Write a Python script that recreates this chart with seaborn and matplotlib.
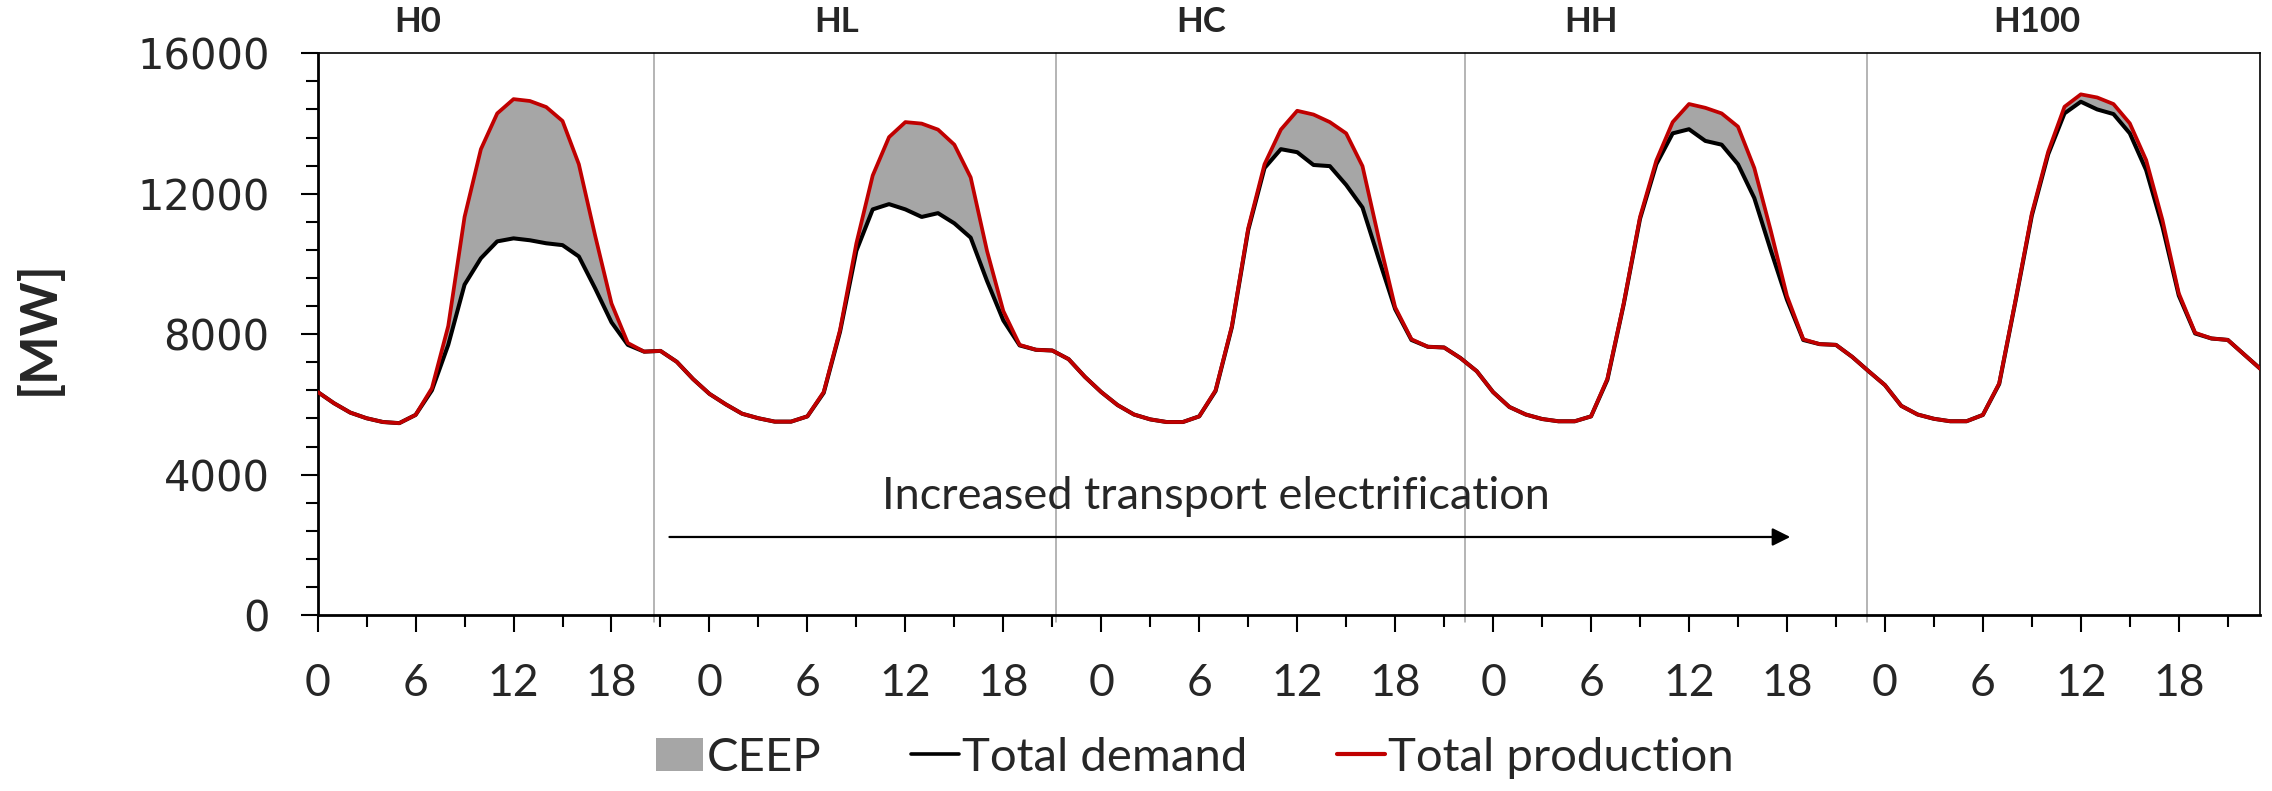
import numpy as np
import pandas as pd
import matplotlib
matplotlib.use("Agg")
import matplotlib.pyplot as plt
import seaborn as sns
from matplotlib.patches import Patch
from matplotlib.lines import Line2D
from matplotlib import transforms

# ---------------- data ----------------
scenarios = ["H0", "HL", "HC", "HH", "H100"]
hour_labels = ["0", "6", "12", "18"]

prod_H0 = [6355, 6034, 5766, 5605, 5498, 5466, 5700, 6462, 8231, 11338, 13267, 14286,
           14693, 14640, 14468, 14071, 12839, 10803, 8874, 7748, 7502, 7523, 7212, 6720]
dem_H0 = [6355, 6034, 5766, 5605, 5498, 5466, 5700, 6400, 7695, 9410, 10160, 10642,
          10728, 10674, 10588, 10535, 10213, 9302, 8338, 7695, 7502, 7523, 7212, 6720]

prod_HL = [6300, 6001, 5734, 5605, 5509, 5509, 5659, 6355, 8123, 10588, 12517, 13611,
           14039, 13996, 13825, 13396, 12464, 10374, 8659, 7695, 7555, 7534, 7288, 6784]
dem_HL = [6300, 6001, 5734, 5605, 5509, 5509, 5659, 6330, 8070, 10374, 11553, 11703,
          11553, 11338, 11446, 11156, 10749, 9517, 8391, 7680, 7555, 7534, 7288, 6784]

prod_HC = [6350, 5980, 5712, 5573, 5498, 5498, 5659, 6400, 8231, 11017, 12839, 13825,
           14361, 14254, 14039, 13718, 12785, 10720, 8766, 7855, 7641, 7620, 7320, 6945]
dem_HC = [6350, 5980, 5712, 5573, 5498, 5498, 5659, 6380, 8200, 10963, 12731, 13268,
          13182, 12818, 12785, 12250, 11607, 10140, 8713, 7834, 7641, 7620, 7320, 6945]

prod_HH = [6350, 5926, 5712, 5584, 5519, 5519, 5659, 6730, 8874, 11338, 12946, 14039,
           14554, 14446, 14286, 13910, 12731, 10963, 9088, 7855, 7716, 7695, 7352, 6945]
dem_HH = [6350, 5926, 5712, 5584, 5519, 5519, 5659, 6700, 8850, 11285, 12839, 13718,
          13836, 13503, 13396, 12839, 11875, 10400, 8981, 7834, 7716, 7695, 7352, 6945]

prod_H100 = [6550, 5959, 5712, 5590, 5520, 5520, 5700, 6600, 8970, 11440, 13195, 14476,
             14829, 14740, 14553, 14003, 12958, 11249, 9163, 8040, 7877, 7836, 7423, 7011]
dem_H100 = [6550, 5959, 5712, 5590, 5520, 5520, 5700, 6580, 8940, 11380, 13120, 14287,
            14619, 14400, 14268, 13719, 12673, 11059, 9100, 8020, 7877, 7836, 7423, 7011]

# layout helpers (hour positions on the continuous axis)
separator_hours = [20.6, 45.2, 70.3, 94.9]
scenario_label_hours = [6.1, 31.8, 54.1, 78.0, 105.3]
arrow_start, arrow_end, arrow_level = 21.55, 90.2, 2224
annot_text = "Increased transport electrification"
annot_x, annot_y = 55.0, 3033

# ---------------- build table ----------------
production = prod_H0 + prod_HL + prod_HC + prod_HH + prod_H100
demand = dem_H0 + dem_HL + dem_HC + dem_HH + dem_H100
df = pd.DataFrame({
    "t": np.arange(len(production)),
    "scenario": np.repeat(scenarios, 24),
    "demand": demand,
    "production": production,
})

# ---------------- style ----------------
sns.set_theme(style="white")
plt.rcParams['font.family'] = ['Lato', 'DejaVu Sans']

RED = "#C00000"
GREY = "#A6A6A6"

fig = plt.figure(figsize=(22.72, 7.91), dpi=100)
ax = fig.add_axes([0.1398, 0.2224, 0.8551, 0.7103])

ax.fill_between(df["t"], df["demand"], df["production"], color=GREY, lw=0, zorder=1)
sns.lineplot(data=df, x="t", y="demand", color="black", lw=2.9, ax=ax,
             legend=False, zorder=2)
sns.lineplot(data=df, x="t", y="production", color=RED, lw=2.7, ax=ax,
             legend=False, zorder=3)
for ln in ax.lines:
    ln.set_solid_joinstyle("round")

n = len(df)
ax.set_xlim(0, n - 1)
ax.set_ylim(0, 16000)

ax.set_xticks(np.arange(0, n, 6))
ax.set_xticklabels(hour_labels * (n // 24))
ax.set_xticks(np.arange(3, n, 6), minor=True)
ax.set_yticks(np.arange(0, 16001, 4000))
ax.set_yticks(np.arange(0, 16001, 800), minor=True)

ax.tick_params(axis="both", which="major", direction="out", length=12.5, width=1.5,
               color="black", bottom=True, left=True)
ax.tick_params(axis="both", which="minor", direction="out", length=8.5, width=1.5,
               color="black", bottom=True, left=True)
ax.tick_params(axis="x", which="major", pad=22, labelsize=32)
ax.tick_params(axis="y", which="major", pad=22, labelsize=30)
for lab in ax.get_yticklabels():
    lab.set_fontfamily("DejaVu Sans")

for side, lw in [("left", 2.0), ("bottom", 2.0), ("top", 1.2), ("right", 1.2)]:
    ax.spines[side].set_visible(True)
    ax.spines[side].set_color("black")
    ax.spines[side].set_linewidth(lw)

ax.set_xlabel("")
ax.set_ylabel("[MW]", fontsize=37, fontweight="bold", va="center")
ax.yaxis.set_label_coords(-0.1435, 0.511)

# separators between scenarios
for sx in separator_hours:
    ax.plot([sx, sx], [-200, 16000], color="#A0A0A0", lw=1.1, clip_on=False, zorder=0.5)

# scenario labels above the plot
trans = transforms.blended_transform_factory(ax.transData, ax.transAxes)
for name, hx in zip(scenarios, scenario_label_hours):
    ax.text(hx, 1.055, name, transform=trans, ha="center", va="center",
            fontsize=25, fontweight="bold")

# annotation
ax.annotate("", xy=(arrow_end, arrow_level), xytext=(arrow_start, arrow_level),
            arrowprops=dict(arrowstyle="-|>", color="black", lw=1.6,
                            mutation_scale=27, shrinkA=0, shrinkB=0))
ax.text(annot_x, annot_y, annot_text, ha="center", va="baseline", fontsize=32.5)

# legend
handles = [Patch(facecolor=GREY, edgecolor="none", label="CEEP"),
           Line2D([], [], color="black", lw=2.6, label="Total demand"),
           Line2D([], [], color=RED, lw=3.0, label="Total production")]
fig.legend(handles=handles, loc="center", bbox_to_anchor=(0.526, 0.042), ncol=3,
           frameon=False, fontsize=34, handlelength=1.0, handletextpad=0.08,
           columnspacing=1.9, handleheight=0.7, borderpad=0, borderaxespad=0)

fig.savefig("out.png", dpi=100)
